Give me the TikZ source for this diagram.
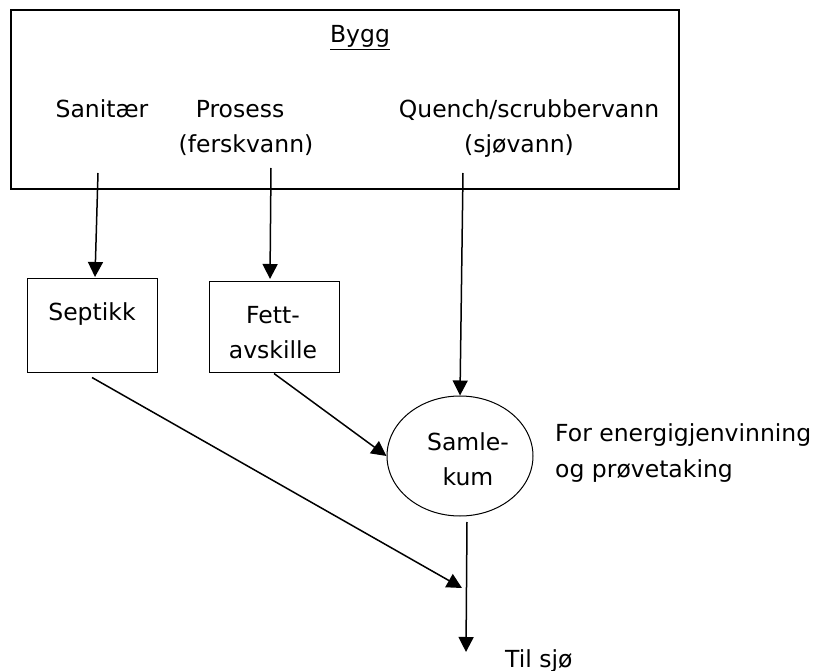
\documentclass[tikz,border=0pt]{standalone}
\usepackage{fontspec}
\setmainfont{DejaVu Sans}
\usetikzlibrary{arrows.meta,shapes.geometric}
\begin{document}
\begin{tikzpicture}[x=1pt,y=-1pt,
  txt/.style={anchor=base,inner sep=0pt,font=\fontsize{23.5}{35}\selectfont,align=center},
  ltxt/.style={anchor=base west,inner sep=0pt,font=\fontsize{23.5}{36}\selectfont,align=left},
  bigbox/.style={draw,line width=2.4pt,minimum width=668pt,minimum height=179pt,inner sep=0pt},
  smallbox/.style={draw,line width=1pt,minimum width=130pt,inner sep=0pt},
  arr/.style={line width=1.5pt,-{Triangle[length=15pt,width=15pt]}}]
\useasboundingbox (0,0) rectangle (823,671);
% building box
\node[bigbox] (bygg) at (345,99.5) {};
\node[txt] (byggtxt) at (360,43) {\underline{Bygg}};
\node[txt] (san) at (102,118) {Sanitær};
\node[txt] (pros) at (240,118) {Prosess};
\node[txt] (fersk) at (246,153) {(ferskvann)};
\node[txt] (quench) at (529,118) {Quench/scrubbervann};
\node[txt] (sjo) at (519,153) {(sjøvann)};
% treatment boxes
\node[smallbox,minimum height=94pt] (sept) at (92,326) {};
\node[txt] (septtxt) at (92,321) {Septikk};
\node[smallbox,minimum height=91pt] (fett) at (274,327.5) {};
\node[txt] (fetttxt) at (273,359) {Fett-\\avskille};
% collecting chamber
\node[ellipse,draw,line width=1pt,minimum width=146pt,minimum height=120pt,inner sep=0pt] (samle) at (460,456) {};
\node[txt] (samletxt) at (468,485) {Samle-\\kum};
\node[ltxt] (energi) at (555,477) {For energigjenvinning\\og prøvetaking};
\node[ltxt] (til) at (505,667) {Til sjø};
% connector ends
\coordinate (s0) at (98,173);
\coordinate (s1) at (95,277);
\coordinate (p0) at (271,168);
\coordinate (p1) at (270,279);
\coordinate (q0) at (463,173);
\coordinate (o0) at (467,522);
\coordinate (o1) at (466,652);
\coordinate (m) at (462,588);
% arrows
\draw[arr] (s0) -- (s1);
\draw[arr] (p0) -- (p1);
\draw[arr] (q0) -- (samle.north);
\draw[arr] (fett.south) -- (samle.west);
\draw[arr] ([yshift=-4pt]sept.south) -- (m);
\draw[arr] (o0) -- (o1);
\end{tikzpicture}
\end{document}
